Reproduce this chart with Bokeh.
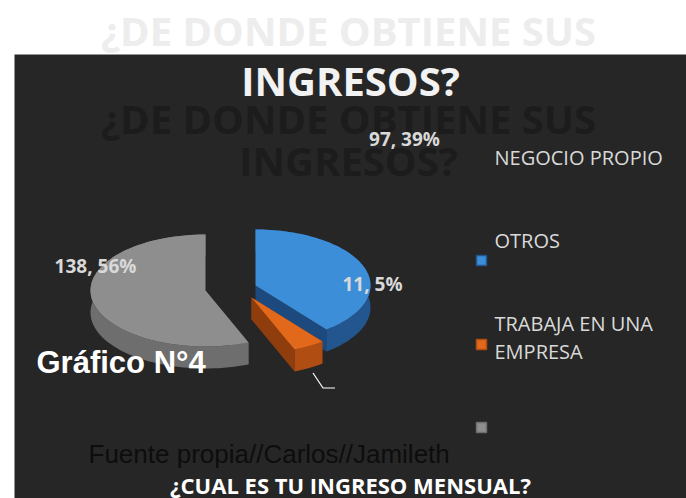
import numpy as np
from bokeh.plotting import figure
from bokeh.models import Range1d
from bokeh.core.properties import value
from bokeh.embed import file_html
from bokeh.resources import INLINE

# ---------------- data ----------------
categories = ["NEGOCIO PROPIO", "OTROS", "TRABAJA EN UNA EMPRESA"]
counts = [97, 11, 138]
percents = [39, 5, 56]
legend_lines = ["NEGOCIO PROPIO", "OTROS", "TRABAJA EN UNA", "EMPRESA"]
title_lines = ["¿DE DONDE OBTIENE SUS", "INGRESOS?"]
subtitle = "¿CUAL ES TU INGRESO MENSUAL?"
chart_tag = "Gráfico N°4"
source_note = "Fuente propia//Carlos//Jamileth"

# ---------------- style ----------------
top_colors = ["#3d8ed8", "#e2681b", "#8e8e8e"]
side_colors = ["#23568f", "#b04d12", "#6e6e6e"]
cut_colors = ["#1d4a7e", "#8f3d0c", "#5c5c5c"]
centers = [(255, 285), (251, 297), (205, 290)]
RX, RY, DEPTH = 115, 56, 22
label_pos = [(404, 138), (372, 283), (95, 265)]
legend_text_y = [157, 240, 323, 351]
legend_marker_y = [260, 344, 427]
TITLE_FONT = value("Open Sans")

W, H = 686, 498
p = figure(width=W, height=H, output_backend="svg", toolbar_location=None,
           x_range=Range1d(0, W), y_range=Range1d(H, 0),
           min_border=0, background_fill_color="white", border_fill_color="white")
p.outline_line_color = None
p.axis.visible = False
p.grid.visible = False

# dark panel
p.quad(left=[14], right=[W], top=[54], bottom=[H], fill_color="#262626", line_color=None)

# title on white + white title + shadow title
p.text(x=[348], y=[30], text=[title_lines[0]], text_font=TITLE_FONT, text_font_style="bold",
       text_font_size="40px", text_color="#ededed", text_align="center", text_baseline="middle")
p.text(x=[348, 348], y=[118, 160], text=title_lines, text_font=TITLE_FONT, text_font_style="bold",
       text_font_size="40px", text_color="#1c1c1c", text_align="center", text_baseline="middle")
p.text(x=[350], y=[80], text=[title_lines[1]], text_font=TITLE_FONT, text_font_style="bold",
       text_font_size="40px", text_color="#f2f2f2", text_align="center", text_baseline="middle")

# ---------------- 3D pie ----------------
total = float(sum(counts))
angles = np.array(counts) / total * 2 * np.pi
starts = np.pi / 2 - np.concatenate([[0], np.cumsum(angles)[:-1]])
ends = starts - angles

def ell(cx, cy, th, dy=0.0):
    return cx + RX * np.cos(th), cy - RY * np.sin(th) + dy

draw_order = [2, 0, 1]
for i in draw_order:
    cx, cy = centers[i]
    th = np.linspace(starts[i], ends[i], 80)
    # cut faces
    for a in (starts[i], ends[i]):
        rx_, ry_ = ell(cx, cy, a)
        p.patch(x=[cx, rx_, rx_, cx], y=[cy, ry_, ry_ + DEPTH, cy + DEPTH],
                fill_color=cut_colors[i], line_color=None)
    # outer wall
    xt, yt = ell(cx, cy, th)
    xb, yb = ell(cx, cy, th[::-1], DEPTH)
    p.patch(x=np.concatenate([xt, xb]), y=np.concatenate([yt, yb]),
            fill_color=side_colors[i], line_color=None)
    # top face
    p.patch(x=np.concatenate([[cx], xt]), y=np.concatenate([[cy], yt]),
            fill_color=top_colors[i], line_color=None)

# leader line near the small slice
mid = (starts[1] + ends[1]) / 2
lx, ly = ell(centers[1][0], centers[1][1], mid, DEPTH)
p.line(x=[lx + 4, lx + 14, lx + 26], y=[ly + 5, ly + 20, ly + 20], line_color="white", line_width=1.2)

# data labels
labels = [f"{c}, {q}%" for c, q in zip(counts, percents)]
p.text(x=[q[0] for q in label_pos], y=[q[1] for q in label_pos], text=labels,
       text_font=TITLE_FONT, text_font_style="bold", text_font_size="19px",
       text_color="#d9d9d9", text_align="center", text_baseline="middle")

# legend (as in the picture)
p.text(x=[494] * 4, y=legend_text_y, text=legend_lines, text_font=TITLE_FONT,
       text_font_size="20px", text_color="#d9d9d9", text_align="left", text_baseline="middle")
p.rect(x=[481] * 3, y=legend_marker_y, width=10, height=10, fill_color=top_colors,
       line_color=side_colors, line_width=1.5)

# other texts
p.text(x=[36], y=[362], text=[chart_tag], text_font=value("Liberation Sans"), text_font_style="bold",
       text_font_size="31px", text_color="white", text_align="left", text_baseline="middle")
p.text(x=[88], y=[453], text=[source_note], text_font=value("Liberation Sans"),
       text_font_size="26px", text_color="#0d0d0d", text_align="left", text_baseline="middle")
p.text(x=[350], y=[484], text=[subtitle], text_font=TITLE_FONT, text_font_style="bold",
       text_font_size="22px", text_color="white", text_align="center", text_baseline="middle")

open("out.html", "w").write(file_html(p, INLINE))
